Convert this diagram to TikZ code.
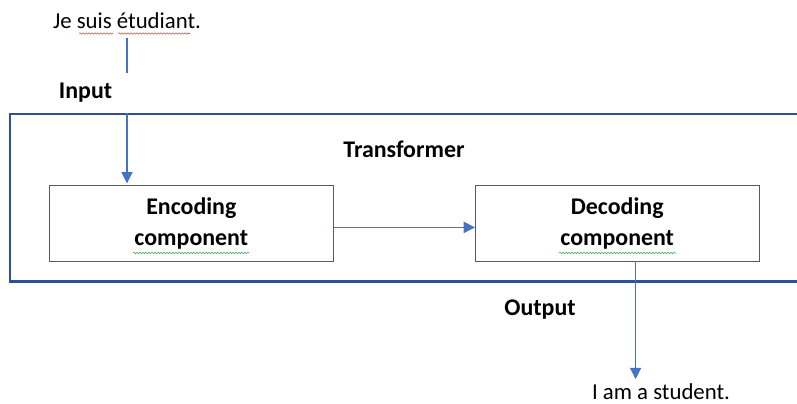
\documentclass[tikz,border=0pt]{standalone}
\usepackage{fontspec}
\setmainfont{Carlito}
\usetikzlibrary{arrows.meta,decorations.pathmorphing}

\definecolor{wordblue}{HTML}{4472C4}
\definecolor{framenavy}{HTML}{2F528F}
\definecolor{boxgray}{HTML}{5A5A5A}
\definecolor{spellred}{HTML}{E8473F}
\definecolor{spellgreen}{HTML}{3CA55C}

\begin{document}
\begin{tikzpicture}[
    x=0.025cm, y=-0.025cm,
    font=\fontsize{16.2}{19}\selectfont,
    comp/.style={rectangle, draw=boxgray, line width=0.6pt, fill=white, minimum width=7.09cm, minimum height=1.88cm, align=center, font=\fontsize{17}{22}\selectfont\bfseries},
    lbl/.style={font=\fontsize{17}{20}\selectfont\bfseries},
    arrow/.style={-{Triangle[length=2.8mm, width=2.8mm]}, line width=0.75pt, wordblue},
    squig/.style={decorate, decoration={snake, segment length=0.075cm, amplitude=0.018cm}, line width=0.4pt},
]
\useasboundingbox (0,0) rectangle (797,403);
\clip (0,0) rectangle (797,403);

\draw[framenavy, line width=1.5pt] (10,114) rectangle (820,281.5);
\node[lbl] (TRANS) at (404,149) {Transformer};

\node (SRC) at (127,21) {Je suis étudiant.};
\node[comp] (ENC) at (191.3,223.4) {Encoding\\component};
\node[comp] (DEC) at (617.2,223.4) {Decoding\\component};
\node (TGT) at (661,392) {I am a student.};

\draw[arrow, shorten <=3pt, shorten >=1.5pt] (SRC.south) -- (SRC.south |- ENC.north);
\draw[arrow] ([yshift=-0.1cm]ENC.east) -- ([yshift=-0.1cm]DEC.west);
\draw[arrow] ([xshift=0.46cm]DEC.south) -- ([xshift=0.46cm]DEC.south |- TGT.north);

\node[lbl, fill=white, minimum width=2.1cm, minimum height=1cm, text width=1.9cm, align=left] (INPUT) at (97,93) {Input};
\node[lbl] (OUTPUT) at (540,310) {Output};

\draw[squig, spellred] (79,33.5) -- (113,33.5);
\draw[squig, spellred] (118,33.5) -- (190,33.5);
\draw[squig, spellgreen] (133,253) -- (249,253);
\draw[squig, spellgreen] (559,253) -- (676,253);
\end{tikzpicture}
\end{document}
